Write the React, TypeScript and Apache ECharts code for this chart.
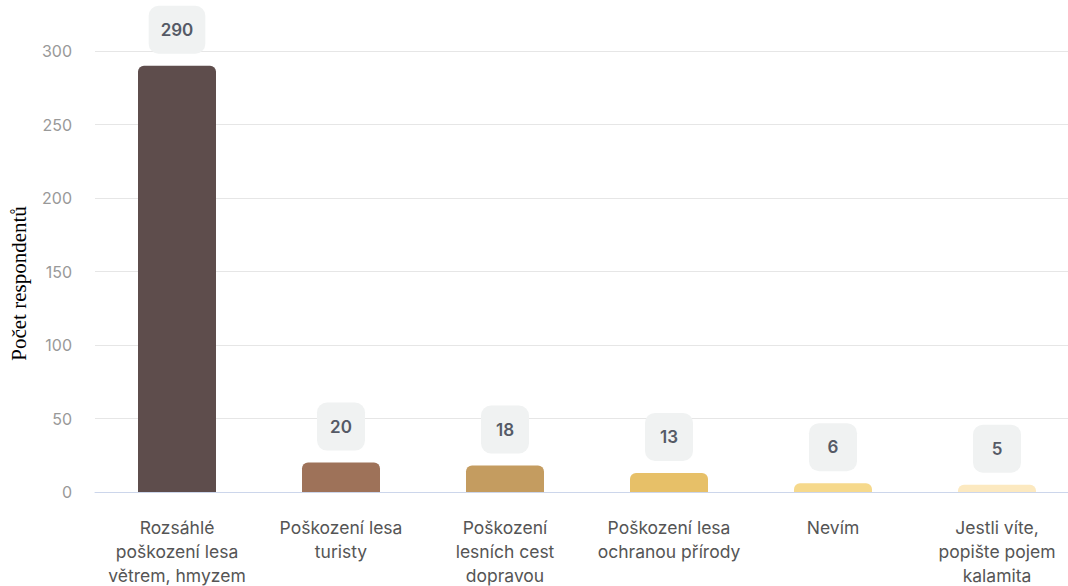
import React, { useEffect, useRef } from "react";
import * as echarts from "echarts";

const categories = [
  "Rozsáhlé\npoškození lesa\nvětrem, hmyzem",
  "Poškození lesa\nturisty",
  "Poškození\nlesních cest\ndopravou",
  "Poškození lesa\nochranou přírody",
  "Nevím",
  "Jestli víte,\npopište pojem\nkalamita",
];
const values = [290, 20, 18, 13, 6, 5];
const barColors = ["#5e4d4c", "#9e7259", "#c49c60", "#e7c068", "#f6d98c", "#fce9c0"];
const yTicks = { min: 0, max: 300, interval: 50 };
const yAxisName = "Počet respondentů";

export default function App() {
  const ref = useRef<HTMLDivElement>(null);
  useEffect(() => {
    if (!ref.current) return;
    const chart = echarts.init(ref.current, undefined, { renderer: "svg" });
    chart.setOption({
      animation: false,
      grid: { left: 95, width: 984, top: 51, bottom: 94, outerBoundsMode: "none", containLabel: false },
      xAxis: {
        type: "category",
        data: categories,
        axisLine: { show: true, lineStyle: { color: "#ccd6eb", width: 1 } },
        axisTick: { show: false },
        axisLabel: {
          interval: 0,
          margin: 23,
          fontFamily: "Inter",
          fontSize: 17.5,
          lineHeight: 24,
          color: "#555555",
        },
      },
      yAxis: {
        type: "value",
        min: yTicks.min,
        max: yTicks.max,
        interval: yTicks.interval,
        name: yAxisName,
        nameLocation: "middle",
        nameGap: 66,
        nameTextStyle: {
          fontFamily: "Liberation Serif",
          fontSize: 21,
          color: "#000",
          padding: [0, 24, 0, 0],
        },
        axisLine: { show: false },
        axisTick: { show: false },
        axisLabel: { margin: 23, fontFamily: "Inter", fontSize: 16, color: "#999999" },
        splitLine: { lineStyle: { color: "#e6e6e6", width: 1 } },
      },
      series: [
        {
          type: "bar",
          barWidth: 78,
          data: values.map((v, i) => ({
            value: v,
            itemStyle: { color: barColors[i], borderRadius: [6, 6, 0, 0] },
            label: String(v).length < 3 ? { width: 24 } : {},
          })),
          label: {
            show: true,
            position: "top",
            distance: 12,
            fontFamily: "Inter",
            fontWeight: 600,
            fontSize: 17,
            lineHeight: 18,
            align: "center",
            color: "#555a66",
            backgroundColor: "#f0f2f2",
            borderRadius: 10,
            padding: [15, 12],
          },
        },
      ],
    });
    return () => chart.dispose();
  }, []);
  return (
    <div
      ref={ref}
      style={{ position: "absolute", left: 0, top: 0, width: 1068, height: 586, background: "#fff" }}
    />
  );
}
